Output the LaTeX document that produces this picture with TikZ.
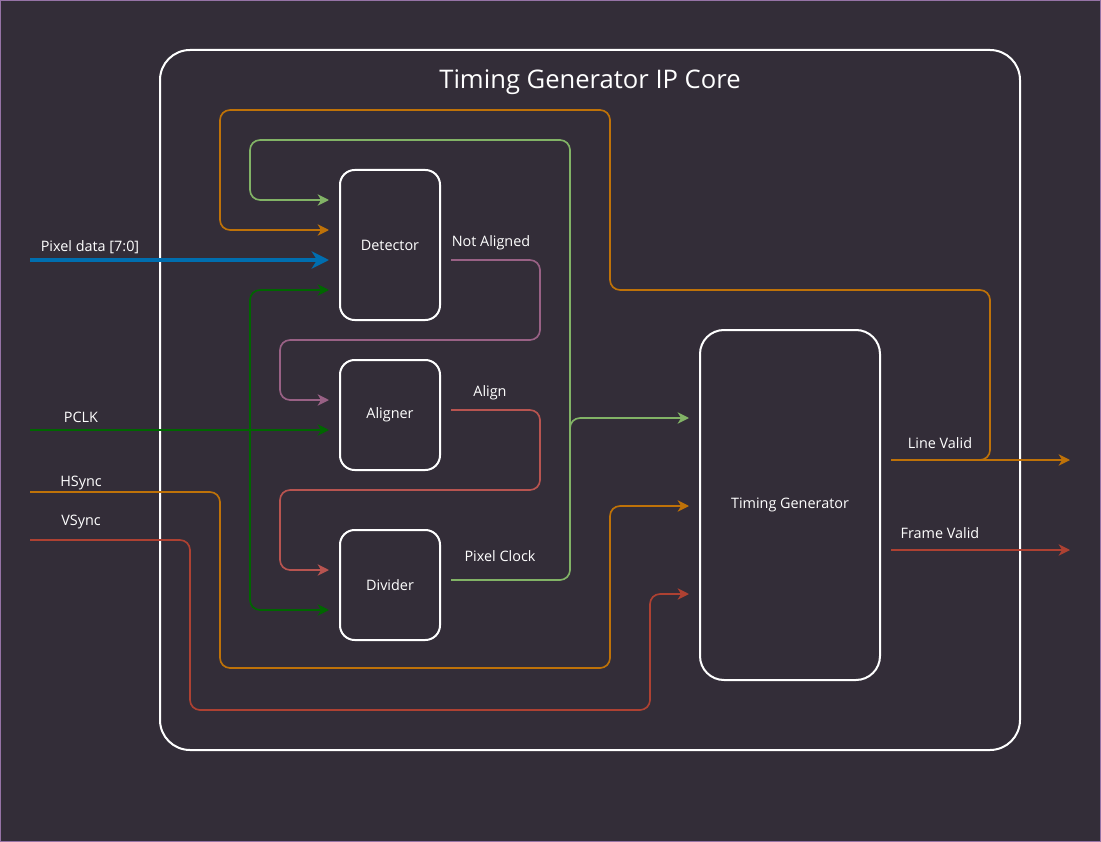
\documentclass[tikz,border=0pt]{standalone}
\usepackage{fontspec}
\setmainfont{Open Sans}
\usetikzlibrary{arrows.meta,calc}
\definecolor{bg}{HTML}{332D38}
\definecolor{frm}{HTML}{9673A6}
\definecolor{org}{HTML}{BF7208}
\definecolor{lgreen}{HTML}{82B366}
\definecolor{dgreen}{HTML}{006600}
\definecolor{blu}{HTML}{006EAF}
\definecolor{mauve}{HTML}{996185}
\definecolor{redA}{HTML}{B85450}
\definecolor{redV}{HTML}{AE4132}
\begin{document}
\begin{tikzpicture}[x=0.75pt,y=-0.75pt,
  box/.style={draw=white, line width=1.5pt, rounded corners=11pt, text=white, font=\fontsize{10.8}{12}\selectfont, inner sep=0pt},
  lbl/.style={text=white, font=\fontsize{10.8}{12}\selectfont, inner sep=0pt},
  wire/.style={line width=1.25pt, rounded corners=7.5pt},
  arr/.style={-{Stealth[length=8.5pt,width=8.5pt,inset=2.5pt]}},
  bigarr/.style={-{Stealth[length=13pt,width=13pt,inset=4pt]}},
  gap/.style={shorten >=7.5pt},
  gapst/.style={shorten <=7.5pt}
]
\useasboundingbox (0,0) rectangle (1101,842);
\fill[bg] (0,0) rectangle (1101,842);
\draw[frm, line width=0.75pt] (0.5,0.5) rectangle (1100.5,841.5);

% container
\node[draw=white, line width=1.5pt, rounded corners=22.5pt, minimum width=645pt, minimum height=525pt] (core) at (590,400) {};
\node[lbl, font=\fontsize{19.2}{21}\selectfont] (title) at (590,82) {Timing Generator IP Core};

% blocks
\node[box, minimum width=75pt, minimum height=112.5pt] (det) at (390,245) {\raisebox{-1.5pt}{Detector}};
\node[box, minimum width=75pt, minimum height=82.5pt] (al) at (390,415) {\raisebox{-1.5pt}{Aligner}};
\node[box, minimum width=75pt, minimum height=82.5pt] (div) at (390,585) {\raisebox{-1.5pt}{Divider}};
\node[box, rounded corners=18pt, minimum width=135pt, minimum height=262.5pt] (tg) at (790,505) {\raisebox{-1.5pt}{Timing Generator}};

% outputs
\coordinate (lvout) at (1070,460);
\coordinate (fvout) at (1070,550);
% inputs
\coordinate (pdin) at (30,260);
\coordinate (pclkin) at (30,430);
\coordinate (hsin) at (30,492);
\coordinate (vsin) at (30,540);

% Line Valid out and feedback
\draw[org, wire, arr, gapst] (tg.east |- lvout) -- (lvout);
\draw[org, wire, arr, gapst, gap] (tg.east |- lvout) -- (990,460) -- (990,290) -- (610,290) -- (610,110) -- (220,110) -- (220,230) -- (det.west |- 0,230);
% Frame Valid
\draw[redV, wire, arr, gapst] (tg.east |- fvout) -- (fvout);

% Pixel clock
\draw[lgreen, wire, arr, gapst, gap] (div.east |- 0,580) -- (570,580) -- (570,140) -- (250,140) -- (250,200) -- (det.west |- 0,200);
\draw[lgreen, wire, arr, gap] (570,440) -- (570,418) -- (tg.west |- 0,418);

% Not aligned
\draw[mauve, wire, arr, gapst, gap] (det.east |- 0,260) -- (540,260) -- (540,340) -- (280,340) -- (280,400) -- (al.west |- 0,400);
% Align
\draw[redA, wire, arr, gapst, gap] (al.east |- 0,410) -- (540,410) -- (540,490) -- (280,490) -- (280,570) -- (div.west |- 0,570);

% Pixel data
\draw[blu, line width=2.8pt, bigarr, gap] (pdin) -- (pdin -| det.west);
% PCLK
\draw[dgreen, wire, arr, gap] (pclkin) -- (pclkin -| al.west);
\draw[dgreen, wire, arr, gap] (250,430) -- (250,290) -- (det.west |- 0,290);
\draw[dgreen, wire, arr, gap] (250,430) -- (250,610) -- (div.west |- 0,610);
% HSync
\draw[org, wire, arr, gap] (hsin) -- (220,492) -- (220,668) -- (610,668) -- (610,506) -- (tg.west |- 0,506);
% VSync
\draw[redV, wire, arr, gap] (vsin) -- (190,540) -- (190,710) -- (650,710) -- (650,594) -- (tg.west |- 0,594);

% labels
\node[lbl] (lpd) at (90,247) {Pixel data [7:0]};
\node[lbl] (lpclk) at (81,417) {PCLK};
\node[lbl] (lhs) at (81,483) {HSync};
\node[lbl] (lvs) at (81,522) {VSync};
\node[lbl] (lna) at (491,243) {Not Aligned};
\node[lbl] (lal) at (490,393) {Align};
\node[lbl] (lpc) at (500,556) {Pixel Clock};
\node[lbl] (llv) at (940,443) {Line Valid};
\node[lbl] (lfv) at (940,533) {Frame Valid};
\end{tikzpicture}
\end{document}
